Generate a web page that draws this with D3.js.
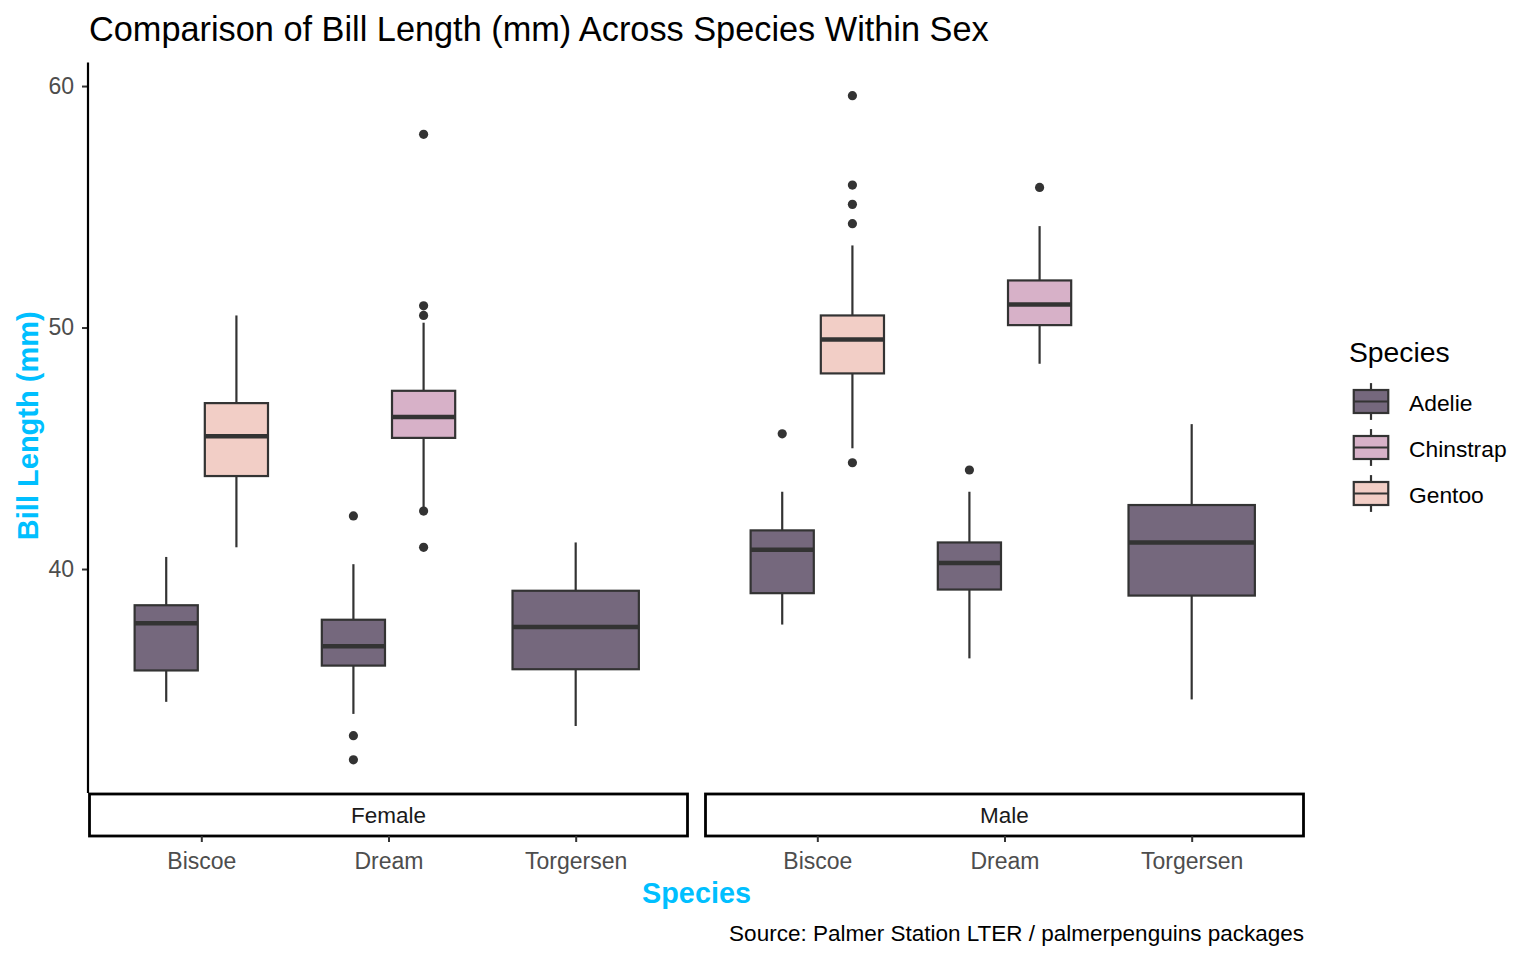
<!DOCTYPE html>
<html>
<head>
<meta charset="utf-8">
<script src="https://cdn.jsdelivr.net/npm/d3@7"></script>
<style>
  html, body { margin: 0; padding: 0; background: #ffffff; }
  svg { display: block; font-family: "Liberation Sans", Arial, sans-serif; }
</style>
</head>
<body>
<svg id="chart" width="1536" height="960"></svg>
<script>
// DATA
const sexes = ["Female", "Male"];
const islands = ["Biscoe", "Dream", "Torgersen"];
const speciesList = ["Adelie", "Chinstrap", "Gentoo"];
const speciesColors = ["#75687d", "#d7b1c8", "#f2cec6"];

// one entry per box
const boxSex     = ["Female", "Female", "Female", "Female", "Female", "Male", "Male", "Male", "Male", "Male"];
const boxIsland  = ["Biscoe", "Biscoe", "Dream", "Dream", "Torgersen", "Biscoe", "Biscoe", "Dream", "Dream", "Torgersen"];
const boxSpecies = ["Adelie", "Gentoo", "Adelie", "Chinstrap", "Adelie", "Adelie", "Gentoo", "Adelie", "Chinstrap", "Adelie"];
const lowWhisker = [34.5, 40.9, 34.0, 42.5, 33.5, 37.7, 45.0, 36.3, 48.5, 34.6];
const q1         = [35.8, 43.85, 36.0, 45.43, 35.85, 39.0, 48.1, 39.15, 50.1, 38.9];
const medians    = [37.75, 45.5, 36.8, 46.3, 37.6, 40.8, 49.5, 40.25, 50.95, 41.1];
const q3         = [38.5, 46.87, 37.9, 47.38, 39.1, 41.6, 50.5, 41.1, 51.95, 42.65];
const highWhisker= [40.5, 50.5, 40.2, 50.2, 41.1, 43.2, 53.4, 43.2, 54.2, 46.0];
const outliers   = [[], [], [42.2, 33.1, 32.1], [50.5, 50.9, 58.0, 42.4, 40.9], [],
                    [45.6], [59.6, 55.9, 55.1, 54.3, 44.4], [44.1], [55.8], []];

const yTicks = [40, 50, 60];

// LAYOUT
const svg = d3.select("#chart");
const panelTop = 62.5, panelBottom = 793;
const panelLefts = [89, 705];
const panelWidth = 599;
const stripHeight = 43;
const boxStroke = "#333333";

const boxes = boxSex.map((s, i) => ({
  sex: s, island: boxIsland[i], species: boxSpecies[i],
  lo: lowWhisker[i], q1: q1[i], med: medians[i], q3: q3[i], hi: highWhisker[i],
  out: outliers[i]
}));

// y scale with ggplot-like 5% expansion
const allVals = boxes.flatMap(b => [b.lo, b.hi, ...b.out]);
const yMin = d3.min(allVals), yMax = d3.max(allVals);
const pad = (yMax - yMin) * 0.05;
const y = d3.scaleLinear().domain([yMin - pad, yMax + pad]).range([panelBottom, panelTop]);

const color = d3.scaleOrdinal().domain(speciesList).range(speciesColors);

// TITLE
svg.append("text")
  .attr("x", 89).attr("y", 41)
  .attr("font-size", 34.3).attr("fill", "#000")
  .text("Comparison of Bill Length (mm) Across Species Within Sex");

// PANELS
sexes.forEach((sex, pi) => {
  const left = panelLefts[pi];
  const x = d3.scalePoint().domain(islands).range([left, left + panelWidth]).padding(0.6);
  const step = x.step();
  const g = svg.append("g");

  const panelBoxes = boxes.filter(b => b.sex === sex);
  const byIsland = d3.group(panelBoxes, b => b.island);

  byIsland.forEach((list, island) => {
    const cx = x(island);
    const present = speciesList.filter(sp => list.some(b => b.species === sp));
    const sub = d3.scaleBand().domain(present)
      .range([cx - 0.375 * step, cx + 0.375 * step])
      .paddingInner(0.1).paddingOuter(0.05);

    list.forEach(b => {
      const bx = sub(b.species);
      const bw = sub.bandwidth();
      const mid = bx + bw / 2;
      const bg = g.append("g");

      // whiskers
      bg.append("line")
        .attr("x1", mid).attr("x2", mid)
        .attr("y1", y(b.hi)).attr("y2", y(b.q3))
        .attr("stroke", boxStroke).attr("stroke-width", 2.2);
      bg.append("line")
        .attr("x1", mid).attr("x2", mid)
        .attr("y1", y(b.q1)).attr("y2", y(b.lo))
        .attr("stroke", boxStroke).attr("stroke-width", 2.2);

      // box
      bg.append("rect")
        .attr("x", bx).attr("y", y(b.q3))
        .attr("width", bw).attr("height", y(b.q1) - y(b.q3))
        .attr("fill", color(b.species))
        .attr("stroke", boxStroke).attr("stroke-width", 2.2);

      // median
      bg.append("line")
        .attr("x1", bx).attr("x2", bx + bw)
        .attr("y1", y(b.med)).attr("y2", y(b.med))
        .attr("stroke", boxStroke).attr("stroke-width", 4.5);

      // outliers
      bg.selectAll("circle")
        .data(b.out)
        .join("circle")
          .attr("cx", mid).attr("cy", d => y(d))
          .attr("r", 4.6)
          .attr("fill", boxStroke);
    });
  });

  // strip
  svg.append("rect")
    .attr("x", left + 0.5).attr("y", panelBottom + 1)
    .attr("width", panelWidth - 1).attr("height", stripHeight - 1)
    .attr("fill", "#fff").attr("stroke", "#000").attr("stroke-width", 2.8);
  svg.append("text")
    .attr("x", left + panelWidth / 2).attr("y", panelBottom + stripHeight / 2 + 1)
    .attr("dy", "0.35em").attr("text-anchor", "middle")
    .attr("font-size", 22.5).attr("fill", "#1a1a1a")
    .text(sex);

  // x axis under the strip
  const xAxis = svg.append("g")
    .attr("transform", `translate(0,${panelBottom + stripHeight})`)
    .call(d3.axisBottom(x).tickSize(6).tickPadding(11));
  xAxis.select(".domain").remove();
  xAxis.selectAll(".tick line").attr("stroke", "#333333").attr("stroke-width", 2);
  xAxis.selectAll(".tick text")
    .attr("font-size", 23).attr("fill", "#4d4d4d")
    .attr("font-family", "Liberation Sans, Arial, sans-serif");
});

// Y AXIS
const yAxis = svg.append("g")
  .attr("transform", `translate(88,0)`)
  .call(d3.axisLeft(y).tickValues(yTicks).tickSize(6).tickPadding(8));
yAxis.select(".domain").remove();
yAxis.selectAll(".tick line").attr("stroke", "#333333").attr("stroke-width", 2);
yAxis.selectAll(".tick text")
  .attr("font-size", 23).attr("fill", "#4d4d4d")
  .attr("font-family", "Liberation Sans, Arial, sans-serif");
svg.append("line")
  .attr("x1", 88).attr("x2", 88)
  .attr("y1", panelTop).attr("y2", panelBottom)
  .attr("stroke", "#000").attr("stroke-width", 2.2);

// AXIS TITLES
svg.append("text")
  .attr("x", (panelLefts[0] + panelLefts[1] + panelWidth) / 2).attr("y", 903)
  .attr("text-anchor", "middle").attr("font-weight", "bold")
  .attr("font-size", 28.8).attr("fill", "#00bfff")
  .text("Species");
svg.append("text")
  .attr("transform", `translate(38,${(panelTop + panelBottom) / 2 - 2}) rotate(-90)`)
  .attr("text-anchor", "middle").attr("font-weight", "bold")
  .attr("font-size", 29).attr("fill", "#00bfff")
  .text("Bill Length (mm)");

// CAPTION
svg.append("text")
  .attr("x", 1304).attr("y", 941)
  .attr("text-anchor", "end")
  .attr("font-size", 22.5).attr("fill", "#000")
  .text("Source: Palmer Station LTER / palmerpenguins packages");

// LEGEND
const legend = svg.append("g").attr("transform", "translate(1348,0)");
legend.append("text")
  .attr("x", 1).attr("y", 362)
  .attr("font-size", 28.3).attr("fill", "#000")
  .text("Species");

const keySize = 46;
speciesList.forEach((sp, i) => {
  const top = 378.5 + i * keySize;
  const k = legend.append("g").attr("transform", `translate(0,${top})`);
  const kx = keySize / 2;
  k.append("line")
    .attr("x1", kx).attr("x2", kx)
    .attr("y1", keySize * 0.1).attr("y2", keySize * 0.9)
    .attr("stroke", boxStroke).attr("stroke-width", 2.2);
  k.append("rect")
    .attr("x", keySize * 0.125).attr("y", keySize * 0.25)
    .attr("width", keySize * 0.75).attr("height", keySize * 0.5)
    .attr("fill", color(sp))
    .attr("stroke", boxStroke).attr("stroke-width", 2.2);
  k.append("line")
    .attr("x1", keySize * 0.125).attr("x2", keySize * 0.875)
    .attr("y1", keySize * 0.5).attr("y2", keySize * 0.5)
    .attr("stroke", boxStroke).attr("stroke-width", 2.2);
  k.append("text")
    .attr("x", 61).attr("y", keySize / 2 + 2)
    .attr("dy", "0.35em")
    .attr("font-size", 22.8).attr("fill", "#000")
    .text(sp);
});
</script>
</body>
</html>
